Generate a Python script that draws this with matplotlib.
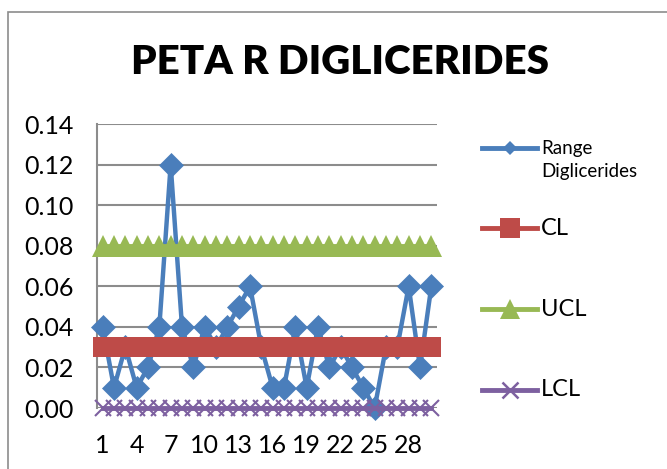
import matplotlib
matplotlib.use('agg')
import matplotlib.pyplot as plt
from matplotlib.lines import Line2D
from matplotlib.patches import Rectangle

# sample numbers 1..30 and the range values
samples = list(range(1, 31))
range_dig = [0.04, 0.01, 0.03, 0.01, 0.02, 0.04, 0.12, 0.04, 0.02, 0.04,
             0.03, 0.04, 0.05, 0.06, 0.03, 0.01, 0.01, 0.04, 0.01, 0.04,
             0.02, 0.03, 0.02, 0.01, 0.00, 0.03, 0.03, 0.06, 0.02, 0.06]
cl_value = 0.03
ucl_value = 0.08
lcl_value = 0.0
y_ticks = [0.00, 0.02, 0.04, 0.06, 0.08, 0.10, 0.12, 0.14]
x_ticks = [1, 4, 7, 10, 13, 16, 19, 22, 25, 28]

plt.rcParams['font.family'] = ['Lato', 'DejaVu Sans']

BLUE = '#4A7EBB'
RED = '#BE4B48'
GREEN = '#98B954'
PURPLE = '#7D60A0'

fig = plt.figure(figsize=(6.67, 4.69), dpi=100)
ax = fig.add_axes([97 / 667, 1 - 408 / 469, 340 / 667, 284 / 469])

n = len(samples)
# same drawing order as the original: range first, limits on top
ax.plot(samples, range_dig, color=BLUE, lw=3.2, marker='D',
        markersize=12, markerfacecolor=BLUE, markeredgecolor=BLUE,
        markeredgewidth=0.5, zorder=3, clip_on=False)
ax.plot(samples, [cl_value] * n, color=RED, lw=3.5, marker='s',
        markersize=15, markerfacecolor=RED, markeredgewidth=0,
        zorder=4, clip_on=False)
ax.plot(samples, [ucl_value] * n, color=GREEN, lw=3.5, marker='^',
        markersize=16, markerfacecolor=GREEN, markeredgewidth=0,
        zorder=4, clip_on=False)
ax.plot(samples, [lcl_value] * n, color=PURPLE, lw=3.5, marker='x',
        markersize=12, markeredgewidth=1.5, zorder=5, clip_on=False)

ax.set_xlim(0.5, 30.5)
ax.set_ylim(0, 0.14)
ax.set_yticks(y_ticks)
ax.set_yticklabels(['%.2f' % v for v in y_ticks])
ax.set_xticks(x_ticks)
ax.set_xticklabels([str(v) for v in x_ticks])
ax.tick_params(axis='y', length=0, pad=17, labelsize=18)
ax.tick_params(axis='x', length=0, pad=19, labelsize=18)
ax.yaxis.grid(True, color='#8C8C8C', lw=1.5)
ax.set_axisbelow(True)
for s in ['top', 'right', 'bottom']:
    ax.spines[s].set_visible(False)
ax.spines['left'].set_color('#8C8C8C')
ax.spines['left'].set_linewidth(1.5)

fig.text(340 / 667, 1 - 62 / 469, 'PETA R DIGLICERIDES', ha='center',
         va='center', fontsize=29, fontweight='heavy')

# outer chart border
fig.add_artist(Rectangle((8 / 667, -0.1), 1.2, 1 - 12 / 469 + 0.1,
                         transform=fig.transFigure, fill=False,
                         edgecolor='#8C8C8C', lw=1.2))

# legend drawn by hand to match the spacing of the original
legend_items = [
    (BLUE, 'D', 7, 'Range\nDiglicerides', 13.5, 160),
    (RED, 's', 15, 'CL', 17, 228),
    (GREEN, '^', 14, 'UCL', 17, 309),
    (PURPLE, 'x', 12, 'LCL', 17, 390),
]
for col, mk, ms, label, fs, ypx in legend_items:
    y = 1 - ypx / 469
    if label.startswith('Range'):
        y = 1 - 148 / 469
    fig.add_artist(Line2D([482 / 667, 509.5 / 667, 537 / 667], [y, y, y],
                          transform=fig.transFigure, color=col, lw=3.5,
                          marker=mk, markersize=ms, markevery=[1],
                          markerfacecolor=col,
                          markeredgewidth=1.8 if mk == 'x' else 0))
    fig.text(541 / 667, 1 - ypx / 469, label, ha='left', va='center',
             fontsize=fs, linespacing=1.45)

fig.savefig('out.png', dpi=100)
plt.close(fig)
